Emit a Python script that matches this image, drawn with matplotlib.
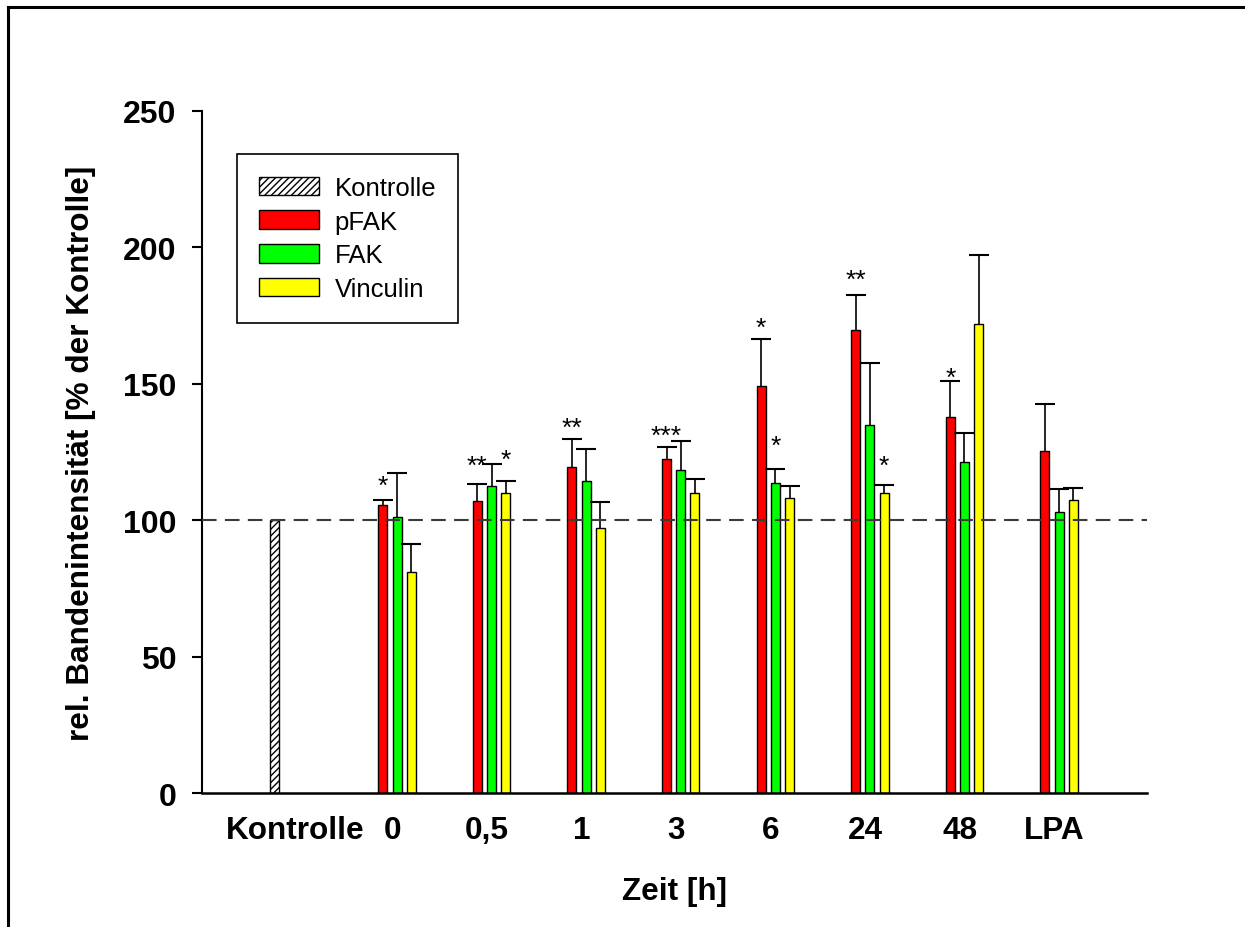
"""
Balkendiagramm: rel. Bandenintensität von pFAK, FAK und Vinculin über die Zeit.
"""

import numpy as np
import matplotlib
matplotlib.use("Agg")
import matplotlib.pyplot as plt
from matplotlib.patches import Patch
from matplotlib.lines import Line2D

plt.rcParams['font.family'] = ['Liberation Sans', 'DejaVu Sans']
plt.rcParams['hatch.linewidth'] = 1.0

# Daten
zeit_labels = ["0", "0,5", "1", "3", "6", "24", "48", "LPA"]
kontrolle_wert = 100

pfak = [105.6, 107.2, 119.4, 122.4, 149.3, 169.8, 137.8, 125.4]
pfak_err = [1.9, 6.2, 10.2, 4.5, 17.1, 12.6, 13.3, 17.2]
fak = [101.3, 112.5, 114.5, 118.4, 113.8, 134.8, 121.3, 103.0]
fak_err = [16.0, 8.1, 11.6, 10.6, 5.1, 22.7, 10.7, 8.4]
vinculin = [80.9, 110.0, 97.1, 110.0, 108.0, 109.9, 171.9, 107.5]
vinculin_err = [10.4, 4.4, 9.6, 5.1, 4.5, 3.0, 25.2, 4.4]

# Signifikanzsterne: Gruppe, Serie, Text, Höhe (Mitte des Sterns)
stern_gruppe = [0, 1, 1, 2, 3, 4, 4, 5, 5, 6]
stern_serie = ["pFAK", "pFAK", "Vinculin", "pFAK", "pFAK", "pFAK", "FAK", "pFAK", "Vinculin", "pFAK"]
stern_text = ["*", "**", "*", "**", "***", "*", "*", "**", "*", "*"]
stern_y = [115.5, 122.8, 125.1, 136.8, 133.8, 173.2, 130.0, 190.9, 122.8, 154.9]

# Layout
W, H = 1245, 928
fig = plt.figure(figsize=(W / 100, H / 100), dpi=100)
ax = fig.add_axes([202 / W, 1 - 794 / H, (1147 - 202) / W, (794 - 112) / H])

x = np.arange(1, len(zeit_labels) + 1)
kontrolle_x = -0.30
breite = 0.095
versatz = 0.15

serien = {
    "pFAK": (pfak, pfak_err, "#FF0000", -versatz),
    "FAK": (fak, fak_err, "#00FF00", 0.0),
    "Vinculin": (vinculin, vinculin_err, "#FFFF00", versatz),
}

ax.bar(kontrolle_x, kontrolle_wert, width=breite, color="white", edgecolor="black",
       hatch="/////", linewidth=1.0, zorder=2)

for name, (werte, fehler, farbe, dx) in serien.items():
    ax.bar(x + dx, werte, width=breite, color=farbe, edgecolor="black", linewidth=1.0, zorder=2)
    _, caps, _ = ax.errorbar(x + dx, werte, yerr=[np.zeros(len(werte)), fehler], fmt="none",
                             ecolor="black", elinewidth=1.2, capsize=7.2, capthick=1.5, zorder=3)
    # nur obere Kappe zeigen
    caps[0].set_visible(False)

# Sterne
for g, s, t, y in zip(stern_gruppe, stern_serie, stern_text, stern_y):
    ax.annotate(t, xy=(x[g] + serien[s][3], y), xytext=(0, -10.6), textcoords="offset points",
                ha="center", va="baseline", fontsize=19, zorder=5)

# Referenzlinie 100 %
ax.axhline(100, color="#3a3a3a", linewidth=1.5, dashes=(7, 4), zorder=4)

ax.set_xlim(-1.062, 8.93)
ax.set_ylim(0, 250)
ax.set_yticks(np.arange(0, 251, 50))
ax.set_xticks(np.r_[-0.08, x - 0.05])
ax.set_xticklabels(["Kontrolle"] + zeit_labels, fontsize=22.7, fontweight="bold")
for lbl in ax.get_yticklabels():
    lbl.set_fontsize(23)
    lbl.set_fontweight("bold")
ax.tick_params(axis="y", direction="out", length=7.2, width=1.5, pad=11)
ax.tick_params(axis="x", length=0, pad=16)

for side in ["top", "right"]:
    ax.spines[side].set_visible(False)
ax.spines["left"].set_linewidth(1.5)
ax.spines["bottom"].set_linewidth(1.8)

ax.set_ylabel("rel. Bandenintensität [% der Kontrolle]", fontsize=22.7, fontweight="bold")
ax.yaxis.set_label_coords((81 - 202) / 945, 0.5)
ax.yaxis.label.set_va("center")
ax.set_xlabel("Zeit [h]", fontsize=22.7, fontweight="bold")
ax.xaxis.label.set_va("baseline")
ax.xaxis.set_label_coords(0.5, (794 - 900) / 682)

# Legende
handles = [
    Patch(facecolor="white", edgecolor="black", hatch="/////", linewidth=1.0),
    Patch(facecolor="#FF0000", edgecolor="black", linewidth=1.0),
    Patch(facecolor="#00FF00", edgecolor="black", linewidth=1.0),
    Patch(facecolor="#FFFF00", edgecolor="black", linewidth=1.0),
]
leg = ax.legend(handles, ["Kontrolle", "pFAK", "FAK", "Vinculin"], loc="upper left",
                bbox_to_anchor=((237 - 202) / 945, (794 - 155) / 682), borderaxespad=0,
                fontsize=18.5, handlelength=2.33, handleheight=0.74, handletextpad=0.62,
                labelspacing=0.38, borderpad=0.85, fancybox=False, framealpha=1,
                edgecolor="black")
leg.get_frame().set_linewidth(1.2)

# Rahmen (oben und links)
fig.add_artist(Line2D([8 / W, 8 / W], [0, 1 - 8 / H], transform=fig.transFigure, color="black", lw=2.2))
fig.add_artist(Line2D([8 / W, 1], [1 - 8 / H, 1 - 8 / H], transform=fig.transFigure, color="black", lw=2.2))

fig.savefig("out.png", dpi=100)
plt.close(fig)
